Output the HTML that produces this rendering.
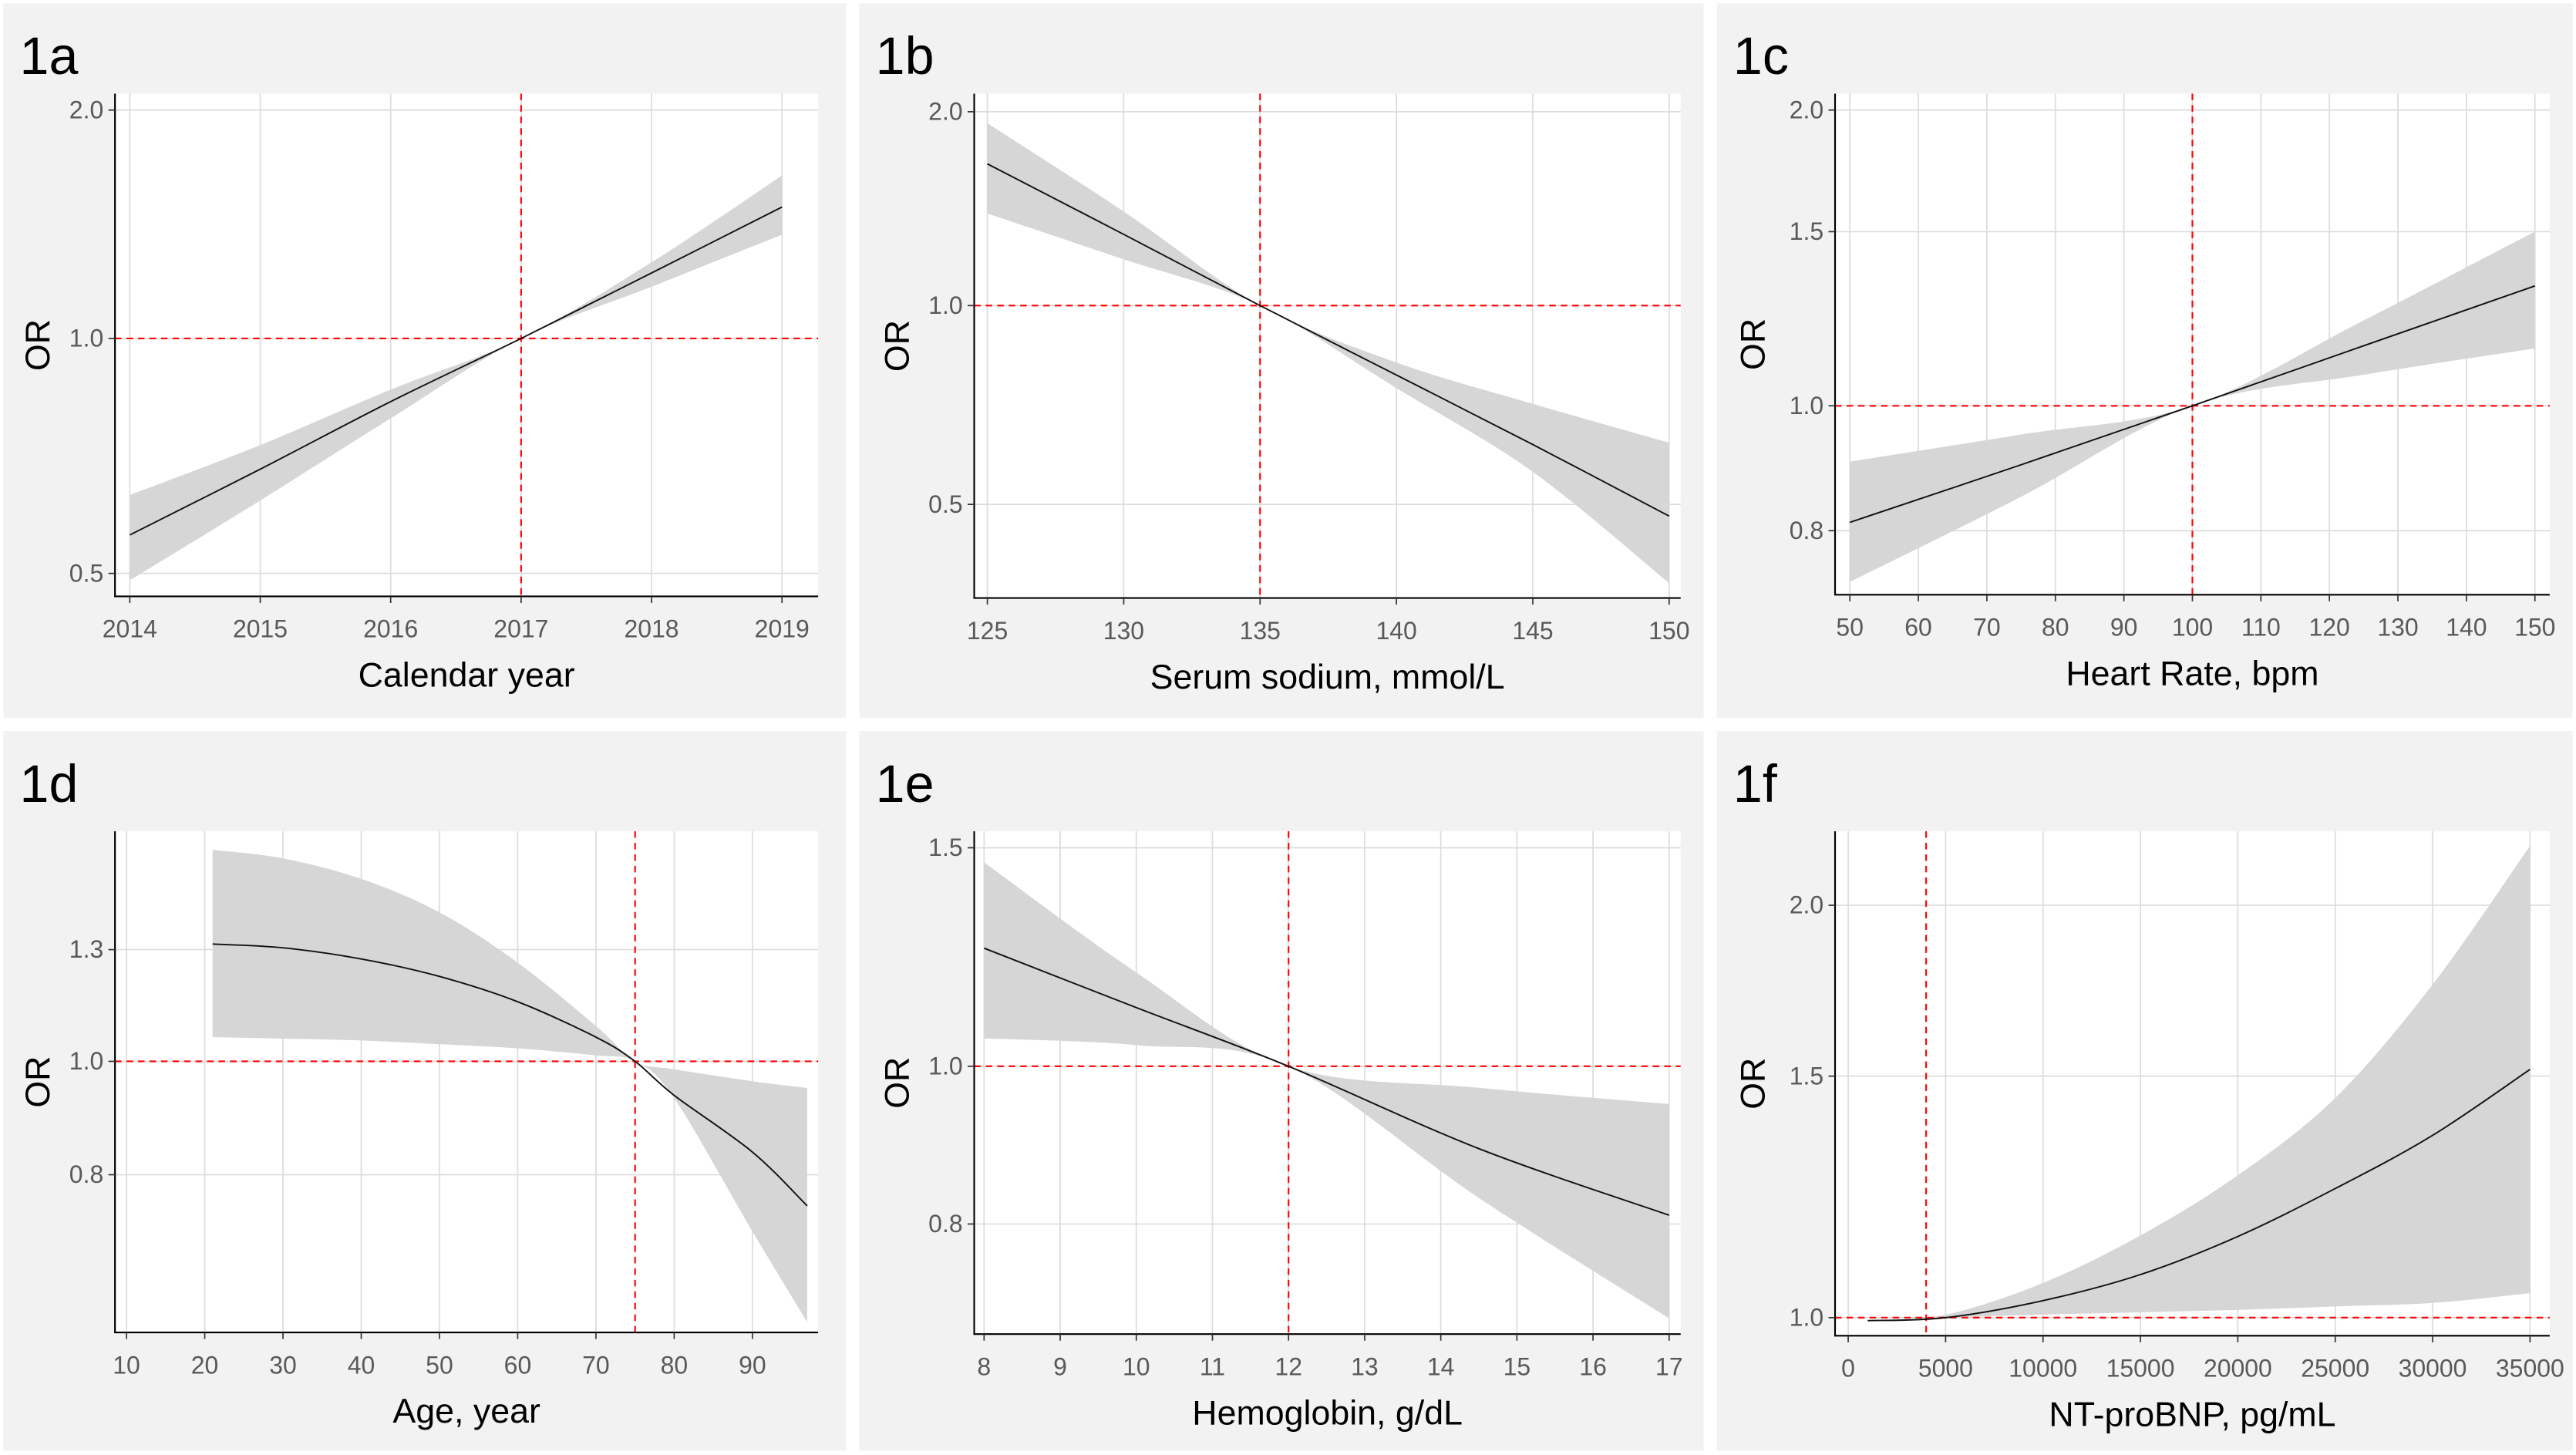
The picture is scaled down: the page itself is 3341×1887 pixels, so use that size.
<!DOCTYPE html>
<html><head><meta charset="utf-8"><style>
html,body{margin:0;padding:0;background:#fff;}
svg{display:block;font-family:"Liberation Sans",sans-serif;}
</style></head><body>
<svg id="fig" width="3341" height="1887" viewBox="0 0 1568 885.6" preserveAspectRatio="none" xmlns="http://www.w3.org/2000/svg"></svg>
<script>
// ---- data arrays (OR values) ----
const aX=[2014,2015,2016,2017,2018,2019];
const aLine=[0.56,0.68,0.83,1.0,1.22,1.49];
const aUp=[0.63,0.73,0.86,1.0,1.26,1.64];
const aLo=[0.49,0.62,0.79,1.0,1.17,1.37];
const aXTicks=[2014,2015,2016,2017,2018,2019];
const aYTicks=[0.5,1.0,2.0];

const bX=[125,130,135,140,145,150];
const bLine=[1.66,1.29,1.0,0.785,0.616,0.48];
const bUp=[1.92,1.40,1.0,0.82,0.71,0.62];
const bLo=[1.39,1.18,1.0,0.75,0.56,0.38];
const bXTicks=[125,130,135,140,145,150];
const bYTicks=[0.5,1.0,2.0];

const cX=[50,75,100,125,150];
const cLine=[0.812,0.90,1.0,1.15,1.322];
const cUp=[0.905,0.95,1.0,1.22,1.5];
const cLo=[0.73,0.85,1.0,1.075,1.143];
const cXTicks=[50,60,70,80,90,100,110,120,130,140,150];
const cYTicks=[0.8,1.0,1.5,2.0];

const dX=[21,30,40,50,60,70,75,80,90,97];
const dLine=[1.315,1.305,1.275,1.228,1.16,1.065,1.0,0.94,0.84,0.745];
const dUp=[1.568,1.545,1.49,1.40,1.265,1.095,1.0,0.986,0.965,0.953];
const dLo=[1.065,1.061,1.056,1.046,1.035,1.016,1.0,0.935,0.70,0.54];
const dXTicks=[10,20,30,40,50,60,70,80,90];
const dYTicks=[0.8,1.0,1.3];

const eX=[8,10,12,14.5,17];
const eLine=[1.245,1.115,1.0,0.89,0.81];
const eUp=[1.46,1.19,1.0,0.97,0.948];
const eLo=[1.053,1.04,1.0,0.83,0.70];
const eXTicks=[8,9,10,11,12,13,14,15,16,17];
const eYTicks=[0.8,1.0,1.5];

const fX=[1000,5000,10000,15000,20000,25000,30000,35000];
const fLine=[0.995,1.0,1.029,1.075,1.146,1.242,1.358,1.517];
const fUp=[0.995,1.005,1.06,1.148,1.27,1.446,1.75,2.21];
const fLo=[0.995,1.0,1.005,1.009,1.013,1.019,1.025,1.042];
const fXTicks=[0,5000,10000,15000,20000,25000,30000,35000];
const fYTicks=[1.0,1.5,2.0];

const NS="http://www.w3.org/2000/svg";
const svg=document.getElementById('fig');
function mk(tag,attrs,parent){const e=document.createElementNS(NS,tag);for(const k in attrs)e.setAttribute(k,attrs[k]);(parent||svg).appendChild(e);return e;}

// Catmull-Rom smooth path through pixel points
function smooth(pts,start){
  let d=(start?'M':'L')+pts[0][0].toFixed(2)+','+pts[0][1].toFixed(2);
  for(let i=0;i<pts.length-1;i++){
    const p0=pts[Math.max(0,i-1)],p1=pts[i],p2=pts[i+1],p3=pts[Math.min(pts.length-1,i+2)];
    const c1=[p1[0]+(p2[0]-p0[0])/6,p1[1]+(p2[1]-p0[1])/6];
    const c2=[p2[0]-(p3[0]-p1[0])/6,p2[1]-(p3[1]-p1[1])/6];
    d+='C'+c1[0].toFixed(2)+','+c1[1].toFixed(2)+' '+c2[0].toFixed(2)+','+c2[1].toFixed(2)+' '+p2[0].toFixed(2)+','+p2[1].toFixed(2);
  }
  return d;
}

// layout (not data)
const panels=[
 {id:'1a',bg:[2,2,513,435],plot:[70,57,498,363],xr:[2014,2019],xp:[79,476],yp:[349,206,67],refX:2017,xt:aXTicks,yt:aYTicks,X:aX,L:aLine,U:aUp,Lo:aLo,title:'Calendar year',orx:22,lin:false},
 {id:'1b',bg:[523,2,514,435],plot:[593,57,1023,364],xr:[125,150],xp:[601,1016],yp:[307,186,68],refX:135,xt:bXTicks,yt:bYTicks,X:bX,L:bLine,U:bUp,Lo:bLo,title:'Serum sodium, mmol/L',orx:545,lin:false},
 {id:'1c',bg:[1045,2,521,435],plot:[1117,57,1552,362],xr:[50,150],xp:[1126,1543],yp:[323,247,141,67],refX:100,xt:cXTicks,yt:cYTicks,X:cX,L:cLine,U:cUp,Lo:cLo,title:'Heart Rate, bpm',orx:1066,lin:false},
 {id:'1d',bg:[2,445,513,438],plot:[70,506,498,811],xr:[10,90],xp:[77,458],yp:[715,646,578],refX:75,xt:dXTicks,yt:dYTicks,X:dX,L:dLine,U:dUp,Lo:dLo,title:'Age, year',orx:22,lin:true},
 {id:'1e',bg:[523,445,514,438],plot:[593,506,1023,812],xr:[8,17],xp:[599,1016],yp:[745,649,516],refX:12,xt:eXTicks,yt:eYTicks,X:eX,L:eLine,U:eUp,Lo:eLo,title:'Hemoglobin, g/dL',orx:545,lin:false},
 {id:'1f',bg:[1045,445,521,438],plot:[1117,506,1552,813],xr:[0,35000],xp:[1125,1540],yp:[802,655,551],refX:4000,xt:fXTicks,yt:fYTicks,X:fX,L:fLine,U:fUp,Lo:fLo,title:'NT-proBNP, pg/mL',orx:1066,lin:false}
];

panels.forEach(p=>{
  const g=mk('g',{});
  
  
  const bg=mk('rect',{x:p.bg[0],y:p.bg[1],width:p.bg[2],height:p.bg[3],fill:'#f2f2f2'},g);
  
  
  const [x0,y0,x1,y1]=p.plot;
  const pr=mk('rect',{x:x0,y:y0,width:x1-x0,height:y1-y0,fill:'#fff'},g);
  
  
  const sx=v=>p.xp[0]+(v-p.xr[0])*(p.xp[1]-p.xp[0])/(p.xr[1]-p.xr[0]);
  const tf=v=>p.lin?v:Math.log(v);
  const sy=v=>{const t=p.yt,q=p.yp,n=t.length;let i=0;
    if(v>t[n-1]) i=n-2; else {for(i=0;i<n-2;i++){if(v<=t[i+1])break;}}
    return q[i]+(tf(v)-tf(t[i]))*(q[i+1]-q[i])/(tf(t[i+1])-tf(t[i]));};
  p.xt.forEach(t=>{const l=mk('line',{x1:sx(t),x2:sx(t),y1:y0,y2:y1,stroke:'#dcdcdc','stroke-width':0.8},g);
    
    });
  p.yt.forEach(t=>{const l=mk('line',{x1:x0,x2:x1,y1:sy(t),y2:sy(t),stroke:'#dcdcdc','stroke-width':0.8},g);
    
    });
  const up=p.X.map((x,i)=>[sx(x),sy(p.U[i])]);
  const lo=p.X.map((x,i)=>[sx(x),sy(p.Lo[i])]).reverse();
  const band=mk('path',{d:smooth(up,true)+smooth(lo,false)+'Z',fill:'#d6d6d6'},g);
  
  
  const rv=mk('line',{x1:sx(p.refX),x2:sx(p.refX),y1:y0,y2:y1,stroke:'#ff0000','stroke-width':1,'stroke-dasharray':'4,3'},g);
  
  
  const rh=mk('line',{x1:x0,x2:x1,y1:sy(1),y2:sy(1),stroke:'#ff0000','stroke-width':1,'stroke-dasharray':'4,3'},g);
  
  
  const lp=p.X.map((x,i)=>[sx(x),sy(p.L[i])]);
  const ln=mk('path',{d:smooth(lp,true),fill:'none',stroke:'#111','stroke-width':0.9},g);
  
  
  const ax=mk('path',{d:`M${x0},${y0}L${x0},${y1}L${x1},${y1}`,fill:'none',stroke:'#000','stroke-width':1},g);
  
  
  p.xt.forEach(t=>{
    mk('line',{x1:sx(t),x2:sx(t),y1:y1,y2:y1+4,stroke:'#333','stroke-width':0.8},g);
    const tx=mk('text',{x:sx(t),y:y1+25,'text-anchor':'middle','font-size':15,fill:'#595959'},g);
    tx.textContent=String(t);
    
    
  });
  p.yt.forEach(t=>{
    mk('line',{x1:x0-4,x2:x0,y1:sy(t),y2:sy(t),stroke:'#333','stroke-width':0.8},g);
    const tx=mk('text',{x:x0-7,y:sy(t)+5,'text-anchor':'end','font-size':15,fill:'#595959'},g);
    tx.textContent=t.toFixed(1);
    
    
  });
  const xt=mk('text',{x:(x0+x1)/2,y:y1+55,'text-anchor':'middle','font-size':21,fill:'#000'},g);
  xt.textContent=p.title;
  
  
  const ym=(y0+y1)/2;
  const yt=mk('text',{x:p.orx+8,y:ym,'text-anchor':'middle','font-size':21,fill:'#000',transform:`rotate(-90 ${p.orx+8} ${ym})`},g);
  yt.textContent='OR';
  
  
  const lb=mk('text',{x:p.bg[0]+10,y:p.bg[1]+43,'font-size':32,fill:'#000'},g);
  lb.textContent=p.id;
  
  
});
</script>
</body></html>
